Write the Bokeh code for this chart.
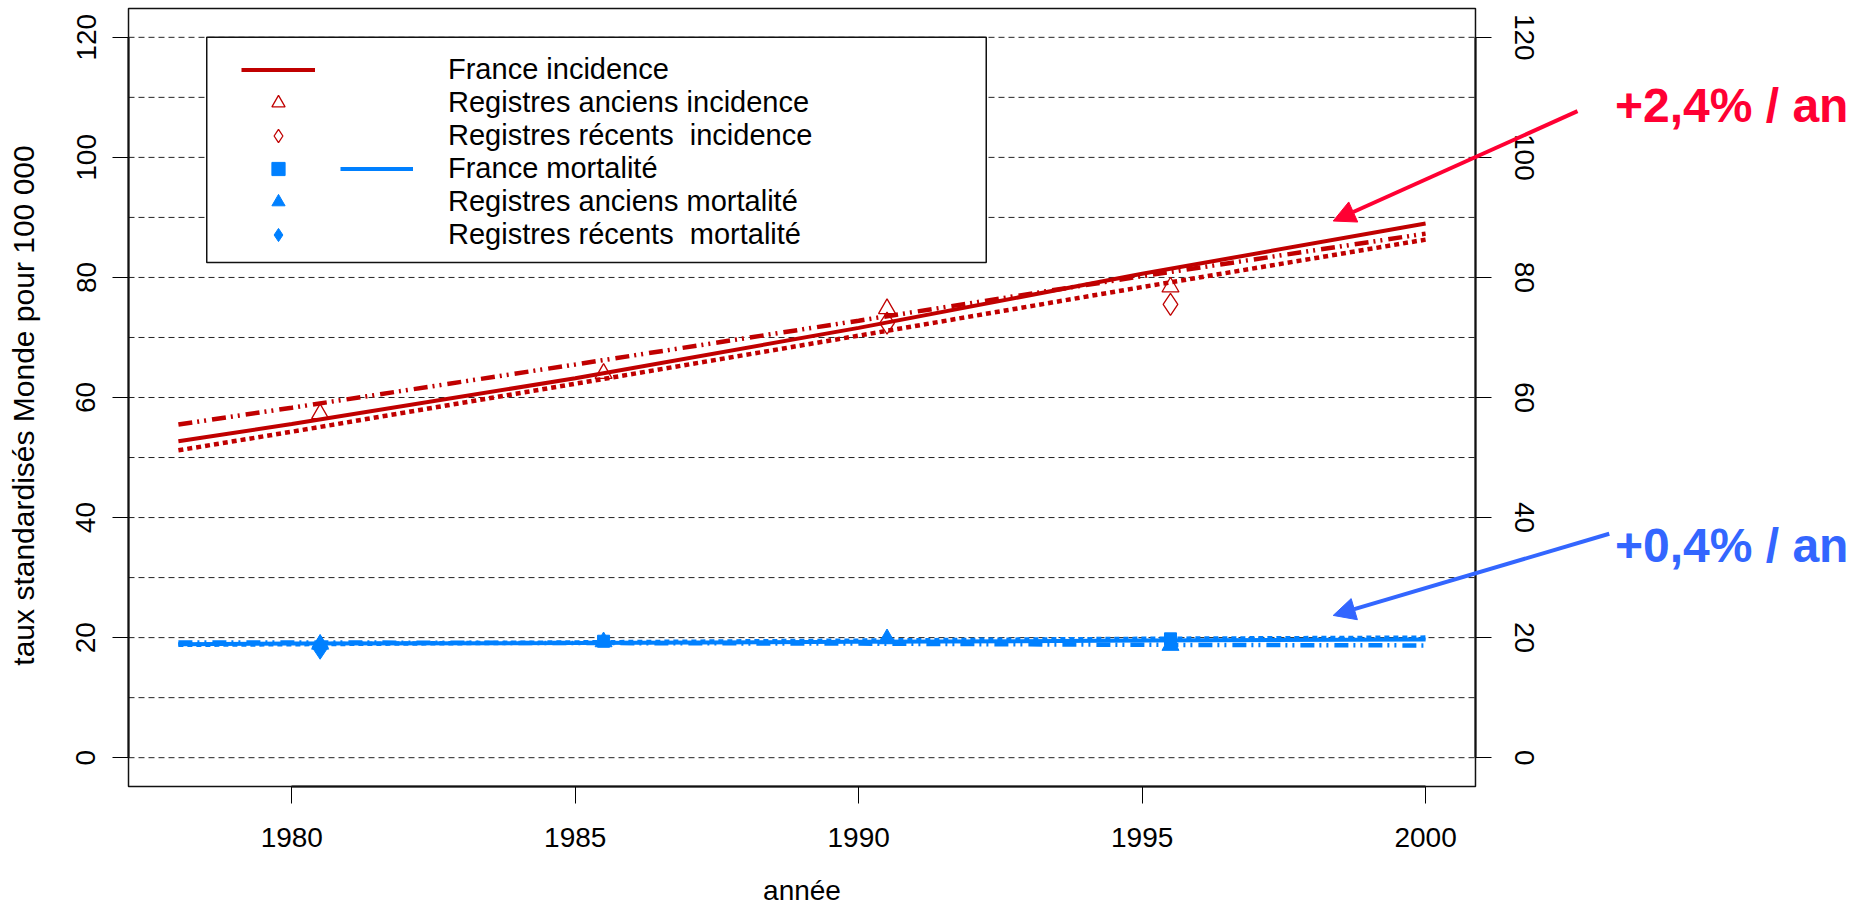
from math import pi
from bokeh.plotting import figure
from bokeh.models import (Range1d, FixedTicker, LinearAxis, Legend, LegendItem,
                          BoxAnnotation, Label, Arrow, NormalHead, ColumnDataSource)
from bokeh.embed import file_html
from bokeh.resources import INLINE

# ---------------- data ----------------
fit_years = [1978, 1980, 1985, 1990, 1995, 2000]
france_incidence = [52.7, 55.6, 63.2, 71.6, 80.6, 89.0]
anciens_incidence = [55.5, 58.3, 65.5, 72.8, 80.2, 87.3]
recents_incidence = [51.2, 54.3, 62.3, 70.3, 78.4, 86.3]
france_mortalite = [18.9, 19.0, 19.1, 19.3, 19.5, 19.7]
anciens_mortalite = [19.2, 19.2, 19.1, 19.0, 18.8, 18.7]
recents_mortalite = [18.8, 18.9, 19.2, 19.5, 19.8, 20.0]

obs_years = [1980.5, 1985.5, 1990.5, 1995.5]
anciens_incidence_obs = [57.3, 64.0, 74.8, 78.4]
recents_incidence_obs_years = [1990.5, 1995.5]
recents_incidence_obs = [72.4, 75.5]
france_mortalite_obs_years = [1985.5, 1995.5]
france_mortalite_obs = [19.4, 19.8]
anciens_mortalite_obs = [18.9, 19.3, 19.8, 18.7]
recents_mortalite_obs_years = [1980.5]
recents_mortalite_obs = [18.4]

x_ticks = [1980, 1985, 1990, 1995, 2000]
y_ticks = [0, 20, 40, 60, 80, 100, 120]
grid_ticks = [0, 10, 20, 30, 40, 50, 60, 70, 80, 90, 100, 110, 120]

legend_labels = ["France incidence", "Registres anciens incidence",
                 "Registres récents  incidence", "France mortalité",
                 "Registres anciens mortalité", "Registres récents  mortalité"]
x_title = "année"
y_title = "taux standardisés Monde pour 100 000"
note_incidence = "+2,4% / an"
note_mortalite = "+0,4% / an"

# ---------------- styles / layout ----------------
RED = "#C00000"
BLUE = "#0080FF"
RED_NOTE = "#FF0033"
BLUE_NOTE = "#3366FF"
FONT = "Liberation Sans"
DASHDOT = "14 5 2 5 2 6"

# plotting box (data limits, as R: range extended by 4 %)
X_LO, X_HI = 1977.12, 2000.88
Y_LO, Y_HI = -4.8, 124.8
W, H = 1867, 909
# the frame covers the whole canvas; the visible box is drawn inside it
p = figure(width=W, height=H,
           x_range=Range1d(1974.862, 2007.795), y_range=Range1d(-25.29, 126.133),
           output_backend="svg", toolbar_location=None,
           x_axis_location=None, y_axis_location=None,
           min_border_left=0, min_border_right=0, min_border_top=0, min_border_bottom=0)
p.outline_line_color = None
p.background_fill_color = "white"
p.border_fill_color = "white"
p.grid.visible = False

# dashed horizontal grid inside the box
n = len(grid_ticks)
p.segment(x0=[X_LO] * n, y0=grid_ticks, x1=[X_HI] * n, y1=grid_ticks,
          line_color="#222222", line_width=1, line_dash="6 4", level="underlay")

# axes
ax_left = LinearAxis(fixed_location=X_LO, ticker=FixedTicker(ticks=y_ticks), bounds=(0, 120))
ax_right = LinearAxis(fixed_location=X_HI, ticker=FixedTicker(ticks=y_ticks), bounds=(0, 120))
ax_bottom = LinearAxis(fixed_location=Y_LO, ticker=FixedTicker(ticks=x_ticks), bounds=(1980, 2000))
p.add_layout(ax_left, "left")
p.add_layout(ax_right, "right")
p.add_layout(ax_bottom, "below")
for ax in [ax_left, ax_right, ax_bottom]:
    ax.axis_line_color = "black"
    ax.axis_line_width = 2
    ax.major_tick_line_color = "black"
    ax.major_tick_line_width = 1
    ax.major_tick_in = 0
    ax.major_tick_out = 16
    ax.minor_tick_line_color = None
    ax.major_label_text_font = FONT
    ax.major_label_text_font_size = "28px"
    ax.major_label_text_color = "black"
ax_bottom.major_tick_out = 17
ax_bottom.major_label_standoff = 25
ax_left.major_label_orientation = "vertical"
ax_right.major_label_orientation = "vertical"
ax_left.major_label_standoff = 17
ax_right.major_label_standoff = 24

# box around the plotting region
p.add_layout(BoxAnnotation(left=X_LO, right=X_HI, bottom=Y_LO, top=Y_HI,
                           fill_alpha=0, line_color="#111111", line_alpha=1.0,
                           line_width=1.5))

# axis titles
p.add_layout(Label(x=1989.0, y=-22.12, text=x_title, text_font=FONT,
                   text_font_size="28px", text_align="center",
                   text_baseline="middle", text_color="black"))
p.add_layout(Label(x=1975.261, y=58.67, text=y_title, text_font=FONT, angle=pi / 2,
                   text_font_size="30px", text_align="center",
                   text_baseline="middle", text_color="black"))

# fitted lines
r_fr_inc = p.line(fit_years, france_incidence, line_color=RED, line_width=4)
p.line(fit_years, anciens_incidence, line_color=RED, line_width=4.5, line_dash=DASHDOT)
p.line(fit_years, recents_incidence, line_color=RED, line_width=4.5, line_dash="5 4")
r_fr_mort = p.line(fit_years, france_mortalite, line_color=BLUE, line_width=4)
p.line(fit_years, anciens_mortalite, line_color=BLUE, line_width=4.5, line_dash=DASHDOT)
p.line(fit_years, recents_mortalite, line_color=BLUE, line_width=4.5, line_dash="5 4")

# observed points
r_tri_inc = p.scatter(obs_years, anciens_incidence_obs, marker="triangle", size=17,
                      line_color=RED, fill_color=None, line_width=1.3)
r_dia_inc = p.scatter(recents_incidence_obs_years, recents_incidence_obs, marker="diamond",
                      size=22, line_color=RED, fill_color=None, line_width=1.3)
r_sq_mort = p.scatter(france_mortalite_obs_years, france_mortalite_obs, marker="square",
                      size=12, line_color=BLUE, fill_color=BLUE)
r_tri_mort = p.scatter(obs_years, anciens_mortalite_obs, marker="triangle", size=17,
                       line_color=BLUE, fill_color=BLUE)
r_dia_mort = p.scatter(recents_mortalite_obs_years, recents_mortalite_obs, marker="diamond",
                       size=24, line_color=BLUE, fill_color=BLUE)

# legend proxies (no data, only used for the legend's line column)
empty = ColumnDataSource(data=dict(x=[], y=[]))
px_blank = p.line("x", "y", source=empty, line_alpha=0)
px_anc_inc = p.line("x", "y", source=empty, line_color=RED, line_width=1.5, line_dash="10 3 2 3 2 3")
px_rec_inc = p.line("x", "y", source=empty, line_color=RED, line_width=1.5, line_dash="6 4")
px_anc_mort = p.line("x", "y", source=empty, line_color=BLUE, line_width=1.5, line_dash="10 3 2 3 2 3")
px_rec_mort = p.line("x", "y", source=empty, line_color=BLUE, line_width=1.5, line_dash="6 4")

# legend frame
p.add_layout(BoxAnnotation(left=1978.5, right=1992.25, top=120, bottom=82.5,
                           fill_color="white", fill_alpha=1.0,
                           line_color="#111111", line_alpha=1.0, line_width=1.5))

common = dict(glyph_height=33, label_height=33, padding=0, spacing=0, margin=0,
              border_line_color=None, background_fill_alpha=0,
              label_text_font=FONT, label_text_font_size="29px",
              label_text_color="black")
legA = Legend(items=[LegendItem(label=" ", renderers=[r]) for r in
                     [r_fr_inc, r_tri_inc, r_dia_inc, r_sq_mort, r_tri_mort, r_dia_mort]],
              location=(241, 658), glyph_width=74, label_standoff=0, label_width=0, **common)
legB = Legend(items=[LegendItem(label=lab, renderers=[r]) for lab, r in
                     zip(legend_labels, [px_blank, px_anc_inc, px_rec_inc, r_fr_mort,
                                         px_anc_mort, px_rec_mort])],
              location=(340, 658), glyph_width=73, label_standoff=35, **common)
p.add_layout(legA)
p.add_layout(legB)

# annotations
p.add_layout(Arrow(end=NormalHead(size=22, fill_color=RED_NOTE, line_color=RED_NOTE),
                   x_start=2002.68, y_start=107.7, x_end=1998.37, y_end=89.4,
                   line_color=RED_NOTE, line_width=4))
p.add_layout(Arrow(end=NormalHead(size=22, fill_color=BLUE_NOTE, line_color=BLUE_NOTE),
                   x_start=2003.24, y_start=37.3, x_end=1998.37, y_end=23.7,
                   line_color=BLUE_NOTE, line_width=4))
p.add_layout(Label(x=2003.34, y=108.64, text=note_incidence, text_font=FONT,
                   text_font_style="bold", text_font_size="48px", text_color=RED_NOTE,
                   text_baseline="middle"))
p.add_layout(Label(x=2003.34, y=35.35, text=note_mortalite, text_font=FONT,
                   text_font_style="bold", text_font_size="48px", text_color=BLUE_NOTE,
                   text_baseline="middle"))

open("out.html", "w").write(file_html(p, INLINE))
